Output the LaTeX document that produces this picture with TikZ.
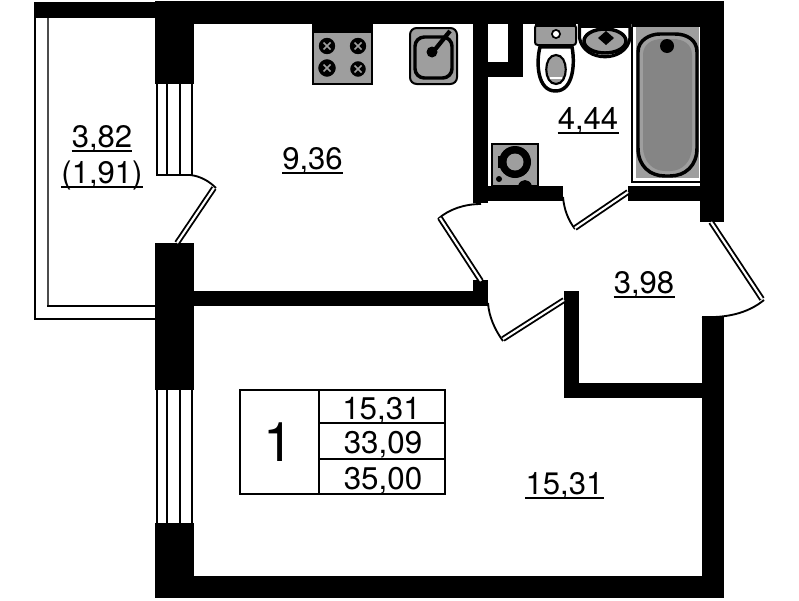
\documentclass[tikz,border=0pt]{standalone}
\usepackage{fontspec}
\setmainfont{TeX Gyre Heros}
\definecolor{fixgray}{gray}{0.62}
\definecolor{bathgray}{gray}{0.52}
\tikzset{
  wall/.style={fill=black,draw=none},
  thinline/.style={draw=black,line width=1.5pt},
  leaf/.style={draw=black,double=white,line width=1.4pt,double distance=1.6pt},
  swing/.style={draw=black,line width=1.4pt},
  fixture/.style={draw=black,fill=fixgray,line width=1.5pt},
  lbl/.style={inner sep=0pt,anchor=base,font=\fontsize{23.3}{24}\selectfont},
  cell/.style={inner sep=0pt,anchor=base,font=\fontsize{23.5}{24}\selectfont},
  uline/.style={draw=black,line width=1.5pt},
  burner/.style={draw=fixgray,fill=black,line width=1pt},
}
\begin{document}
\begin{tikzpicture}[x=0.75pt,y=-0.75pt]
\useasboundingbox (0,0) rectangle (799,600);
% balcony
\draw[thinline] (35,18) -- (35,319) -- (155,319);
\draw[draw=black!70,line width=1.5pt] (48,18) -- (48,306);
\draw[thinline] (47,306) -- (155,306);
% walls
\fill[wall] (34,2) rectangle (155,18);
\fill[wall] (155,1) rectangle (724,24);
\fill[wall] (155,1) rectangle (194,84);
\fill[wall] (155,243) rectangle (194,390);
\fill[wall] (155,523) rectangle (194,598);
\fill[wall] (155,576) rectangle (724,598);
\fill[wall] (700,1) rectangle (724,222);
\fill[wall] (702,317) rectangle (724,598);
\fill[wall] (194,291) rectangle (488,306);
\fill[wall] (473,280) rectangle (488,306);
\fill[wall] (473,24) rectangle (488,203);
\fill[wall] (473,186) rectangle (563,201);
\fill[wall] (628,186) rectangle (702,201);
\fill[wall] (488,62) rectangle (523,77);
\fill[wall] (508,24) rectangle (523,77);
\fill[wall] (564,291) rectangle (579,398);
\fill[wall] (564,383) rectangle (702,398);
\fill[wall] (632,24) rectangle (700,27);
% windows
\foreach \wx in {157,167,180,192} {
  \draw[thinline] (\wx,84) -- (\wx,175);
  \draw[thinline] (\wx,390) -- (\wx,523);
}
\draw[thinline] (156,175) -- (190,175);
% doors
\draw[swing] (190,175) .. controls (200,176) and (209,181) .. (216,188);
\draw[leaf] (214,188) -- (177,243);
\draw[swing] (481,204) .. controls (465,204) and (449,209) .. (438,219);
\draw[leaf] (440,218) -- (481,281);
\draw[swing] (563,197) .. controls (564,209) and (568,220) .. (575,229);
\draw[leaf] (575,228) -- (628,192);
\draw[leaf] (711,222) -- (762,299);
\draw[swing] (764,300) .. controls (747,314) and (725,318) .. (702,317);
\draw[swing] (488,303) .. controls (489,317) and (495,330) .. (503,341);
\draw[leaf] (503,339) -- (564,300);
% stove
\draw[fixture] (313,25) rectangle (372,84);
\fill[black] (312,24) rectangle (372,33);
\draw[burner] (327,46) circle (9);
\draw[burner] (358,46) circle (9);
\draw[burner] (327,68) circle (9.5);
\draw[burner] (358,69) circle (8.5);
\foreach \bx/\by in {327/46,358/46,327/68,358/69}{
  \draw[fixgray,line width=1.2pt] (\bx-3.5,\by-3.5) -- (\bx+3.5,\by+3.5) (\bx-3.5,\by+3.5) -- (\bx+3.5,\by-3.5);
}
% sink
\draw[fixture,rounded corners=5] (410,28) rectangle (457,84);
\draw[fixture,line width=2.6pt,rounded corners=7] (415,37) rectangle (452,78);
\draw[black,line width=3.2pt] (433,52) -- (450,31);
\fill[black] (432,52) circle (5.5);
% toilet
\draw[fixture,rounded corners=2] (535,25) rectangle (576,45);
\fill[black] (556,34) circle (5);
\fill[white] (556,34) circle (3);
\fill[black] (535,24) rectangle (576,27);
\draw[draw=black,fill=white,line width=2.6pt] (540,47) -- (572,47) .. controls (575,62) and (574,91) .. (555.5,91) .. controls (537,91) and (536,62) .. (540,47) -- cycle;
\draw[draw=black,fill=fixgray,line width=1.6pt] (556,55) .. controls (543,55) and (543,84) .. (556,84) .. controls (569,84) and (569,55) .. (556,55) -- cycle;
\draw[white,line width=1.3pt] (550,78) -- (562,78);
% basin
\draw[draw=black,fill=white,line width=2.4pt] (579.5,24) -- (579.5,38) .. controls (584,63) and (626,63) .. (630,38) -- (630,24) -- cycle;
\fill[black] (579,24) rectangle (630,28);
\draw[draw=black,fill=fixgray,line width=2.6pt] (605,41) ellipse (21 and 12);
\fill[black] (606,31) -- (614,38) -- (606,45) -- (598,38) -- cycle;
% bath
\draw[thinline,line width=1pt] (632,27) -- (632,182) -- (702,182);
\fill[fixgray] (636,27) rectangle (699,178);
\draw[draw=black,fill=fixgray,line width=2.6pt] (638,52) .. controls (638,40) and (650,34) .. (660,34) -- (675,34) .. controls (687,34) and (697,40) .. (697,52) -- (697,148) .. controls (697,166) and (685,176) .. (670,176) -- (665,176) .. controls (650,176) and (638,166) .. (638,148) -- cycle;
\fill[bathgray] (643,55) .. controls (643,44) and (652,39) .. (662,39) -- (673,39) .. controls (683,39) and (692,44) .. (692,55) -- (692,146) .. controls (692,162) and (682,171) .. (670,171) -- (665,171) .. controls (653,171) and (643,162) .. (643,146) -- cycle;
\fill[black] (667,46) circle (7);
% boiler
\draw[fixture] (492,144) rectangle (538,186);
\fill[black] (515,162) circle (16);
\fill[black] (498,156) rectangle (504,168);
\fill[fixgray] (515,162) circle (8.5);
\fill[black] (499,179) circle (3);
\fill[black] (518,186) .. controls (520,178) and (530,178) .. (532,186) -- cycle;
% area labels
\node[lbl] (balc) at (102,147) {3,82};
\node[lbl] (balcred) at (102,183) {(1,91)};
\node[lbl] (kitchen) at (312.5,169) {9,36};
\node[lbl] (bath) at (588,129) {4,44};
\node[lbl] (hall) at (644,293) {3,98};
\node[lbl] (room) at (564.5,494) {15,31};
\draw[uline] ([yshift=-3.2pt]balc.base west) -- ([yshift=-3.2pt]balc.base east);
\draw[uline] ([yshift=-3.2pt]balcred.base west) -- ([yshift=-3.2pt]balcred.base east);
\draw[uline] ([yshift=-3.2pt]kitchen.base west) -- ([yshift=-3.2pt]kitchen.base east);
\draw[uline] ([yshift=-3.2pt]bath.base west) -- ([yshift=-3.2pt]bath.base east);
\draw[uline] ([yshift=-3.2pt]hall.base west) -- ([yshift=-3.2pt]hall.base east);
\draw[uline] ([yshift=-3.2pt]room.base west) -- ([yshift=-3.2pt]room.base east);
% table
\draw[thinline] (239.5,389.5) rectangle (444.5,494);
\draw[thinline] (319,389.5) -- (319,494);
\draw[thinline] (319,423) -- (444.5,423);
\draw[thinline] (319,459) -- (444.5,459);
\node[inner sep=0pt,anchor=base,font=\fontsize{41}{44}\selectfont] (num) at (279,461) {1};
\node[cell] (t1) at (381.5,419) {15,31};
\node[cell] (t2) at (383,453.5) {33,09};
\node[cell] (t3) at (383,489.5) {35,00};
\end{tikzpicture}
\end{document}
